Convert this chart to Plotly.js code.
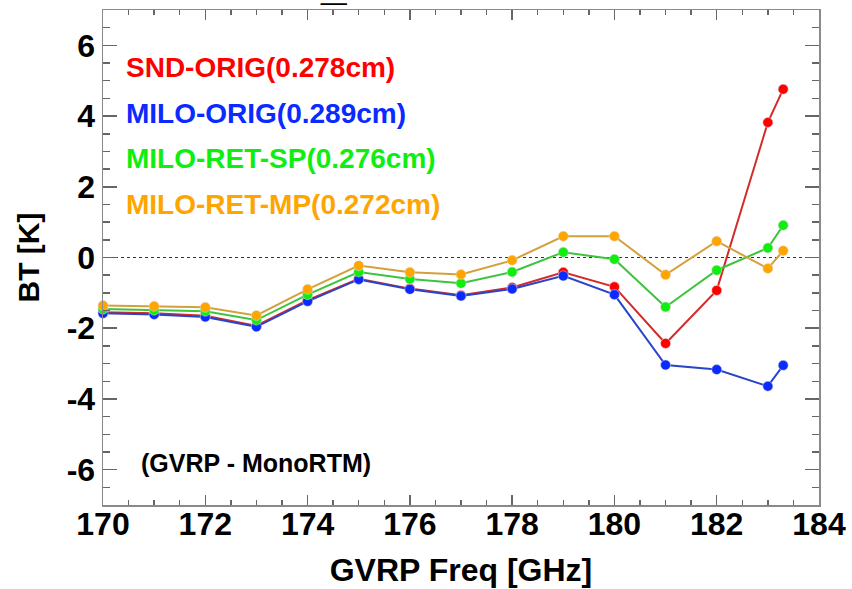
<!DOCTYPE html>
<html>
<head>
<meta charset="utf-8">
<script src="https://cdn.plot.ly/plotly-3.0.1.min.js"></script>
<style>html,body{margin:0;padding:0;background:#fff;}</style>
</head>
<body>
<div id="chart" style="width:852px;height:589px;"></div>
<script>
// ---- data ----
const freq = [170, 171, 172, 173, 174, 175, 176, 177, 178, 179, 180, 181, 182, 183, 183.3];
const sndOrig   = [-1.55, -1.58, -1.65, -1.93, -1.21, -0.60, -0.88, -1.07, -0.85, -0.42, -0.83, -2.43, -0.93, 3.82, 4.76];
const miloOrig  = [-1.58, -1.61, -1.68, -1.96, -1.24, -0.62, -0.90, -1.09, -0.89, -0.52, -1.05, -3.04, -3.17, -3.64, -3.05];
const miloRetSP = [-1.46, -1.49, -1.52, -1.77, -1.05, -0.41, -0.61, -0.73, -0.41, 0.15, -0.05, -1.40, -0.36, 0.27, 0.91];
const miloRetMP = [-1.36, -1.38, -1.41, -1.64, -0.90, -0.23, -0.42, -0.48, -0.08, 0.60, 0.60, -0.49, 0.46, -0.31, 0.19];
const seriesNames = ['SND-ORIG(0.278cm)', 'MILO-ORIG(0.289cm)', 'MILO-RET-SP(0.276cm)', 'MILO-RET-MP(0.272cm)'];
const xTickVals = [170, 172, 174, 176, 178, 180, 182, 184];
const xTickText = ['170', '172', '174', '176', '178', '180', '182', '184'];
const yTickVals = [-6, -4, -2, 0, 2, 4, 6];
const yTickText = ['-6', '-4', '-2', '0', '2', '4', '6'];

// ---- styles ----
const lineColors   = ['#d42a2a', '#2a44c8', '#3cc43c', '#d4a03c'];
const markerColors = ['#ff0000', '#0a2aff', '#10ee10', '#ffa500'];
const seriesData = [sndOrig, miloOrig, miloRetSP, miloRetMP];
const FONT = '"Liberation Sans", Arial, Helvetica, sans-serif';

const traces = seriesData.map((ys, i) => ({
  x: freq, y: ys, type: 'scatter', mode: 'lines+markers', name: seriesNames[i],
  line: {color: lineColors[i], width: 2},
  marker: {color: markerColors[i], size: 10, line: {color: 'rgba(220,220,220,0.9)', width: 0.6}},
  cliponaxis: false,
  hoverinfo: 'x+y+name'
}));

const legendY = [0.883, 0.790, 0.701, 0.608];
const annotations = seriesNames.map((t, i) => ({
  xref: 'paper', yref: 'paper', x: 0.029, y: legendY[i], xanchor: 'left', yanchor: 'middle',
  text: '<b>' + t + '</b>', showarrow: false,
  font: {family: FONT, size: 28, color: markerColors[i]}
}));
annotations.push({
  xref: 'paper', yref: 'paper', x: 0.050, y: 0.0848, xanchor: 'left', yanchor: 'middle',
  text: '<b>(GVRP - MonoRTM)</b>', showarrow: false,
  font: {family: FONT, size: 25, color: '#000'}
});
annotations.push({
  xref: 'paper', yref: 'paper', x: 0.3226, y: 1.111, xanchor: 'center', yanchor: 'top',
  text: '<b>_</b>', showarrow: false,
  font: {family: FONT, size: 46, color: '#000'}
});

const axisCommon = {
  showgrid: false, zeroline: false, showline: true, linecolor: '#8a8a8a', linewidth: 1.5,
  mirror: 'ticks', ticks: 'inside', tickcolor: '#666', tickwidth: 1.5,
  tickfont: {family: FONT, size: 32, color: '#000', weight: 'bold'}
};

const layout = {
  width: 852, height: 589,
  margin: {l: 103, r: 33, t: 10, b: 84},
  paper_bgcolor: '#fff', plot_bgcolor: '#fff',
  showlegend: false,
  xaxis: Object.assign({}, axisCommon, {
    range: [170, 184], tickmode: 'array', tickvals: xTickVals, ticktext: xTickText, ticklen: 10,
    ticklabelstandoff: -10,
    minor: {dtick: 0.5, ticks: 'inside', ticklen: 5, tickcolor: '#666', tickwidth: 1.5, showgrid: false},
    title: {text: '<b>GVRP Freq [GHz]</b>', font: {family: FONT, size: 32, color: '#000'}, standoff: 17}
  }),
  yaxis: Object.assign({}, axisCommon, {
    range: [-7, 7], tickmode: 'array', tickvals: yTickVals, ticktext: yTickText, ticklen: 14,
    minor: {dtick: 0.5, ticks: 'inside', ticklen: 7, tickcolor: '#666', tickwidth: 1.5, showgrid: false},
    title: {text: '<b>BT [K]</b>', font: {family: FONT, size: 30, color: '#000'}, standoff: 18}
  }),
  shapes: [{
    type: 'line', xref: 'paper', yref: 'y', x0: 0, x1: 1, y0: 0, y1: 0,
    line: {color: '#333', width: 1.2, dash: 'dot'}, layer: 'below'
  }],
  annotations: annotations
};

Plotly.newPlot('chart', traces, layout, {displayModeBar: false, staticPlot: true});
</script>
</body>
</html>
